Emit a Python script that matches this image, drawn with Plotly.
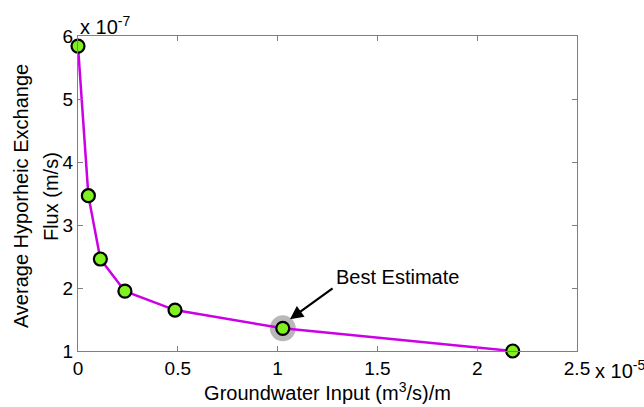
import plotly.graph_objects as go

# Data (real units)
groundwater_input = [0.0, 0.052e-5, 0.112e-5, 0.235e-5, 0.486e-5, 1.026e-5, 2.178e-5]
exchange_flux = [5.84e-7, 3.465e-7, 2.46e-7, 1.95e-7, 1.65e-7, 1.36e-7, 1.0e-7]
best_index = 5

x_tickvals = [0, 0.5e-5, 1.0e-5, 1.5e-5, 2.0e-5, 2.5e-5]
x_ticktext = ["0", "0.5", "1", "1.5", "2", "2.5"]
y_tickvals = [1e-7, 2e-7, 3e-7, 4e-7, 5e-7, 6e-7]
y_ticktext = ["1", "2", "3", "4", "5", "6"]
y_title_lines = ["Average Hyporheic Exchange", "Flux (m/s)"]

font = "Liberation Sans, Arial, sans-serif"

fig = go.Figure()

# Gray halo around best estimate
fig.add_trace(go.Scatter(
    x=[groundwater_input[best_index]], y=[exchange_flux[best_index]],
    mode="markers",
    marker=dict(size=26, color="rgba(160,160,160,0.75)", line=dict(width=0)),
    showlegend=False, hoverinfo="skip"))

fig.add_trace(go.Scatter(
    x=groundwater_input, y=exchange_flux,
    mode="lines+markers",
    line=dict(color="#CC00E6", width=2.5),
    marker=dict(size=13, color="#80F020", line=dict(color="black", width=2.2)),
    showlegend=False, cliponaxis=False))

axis_common = dict(
    showline=True, linecolor="#7f7f7f", linewidth=1, mirror="ticks",
    ticks="inside", ticklen=5, tickcolor="#7f7f7f",
    showgrid=False, zeroline=False,
    tickfont=dict(family=font, size=19, color="black"),
)

fig.update_xaxes(
    range=[0, 2.5e-5], tickvals=x_tickvals, ticktext=x_ticktext,
    title=dict(text="Groundwater Input (m<sup>3</sup>/s)/m",
               font=dict(family=font, size=20, color="black"), standoff=2),
    **axis_common)
fig.update_yaxes(
    range=[1e-7, 6e-7], tickvals=y_tickvals, ticktext=y_ticktext,
    **axis_common)

# Y-axis title as two rotated lines (paper x positions left of plot)
y_title_x = [-0.115, -0.055]
for line, px in zip(y_title_lines, y_title_x):
    fig.add_annotation(
        x=px, y=0.5, xref="paper", yref="paper",
        xanchor="center", yanchor="middle", yshift=-3,
        text=line, textangle=-90, showarrow=False,
        font=dict(family=font, size=20, color="black"))

fig.add_annotation(
    x=1.062e-5, y=1.505e-7, ax=1.283e-5, ay=2.01e-7,
    xref="x", yref="y", axref="x", ayref="y",
    text="", showarrow=True, arrowhead=2, arrowsize=1.2, arrowwidth=2.2,
    arrowcolor="black")
fig.add_annotation(
    x=1.60e-5, y=2.17e-7, xref="x", yref="y", text="Best Estimate",
    showarrow=False, font=dict(family=font, size=20, color="black"))

# Exponent labels
fig.add_annotation(
    x=0, y=1, xref="paper", yref="paper", xanchor="left", yanchor="bottom",
    text="x 10<sup>-7</sup>", showarrow=False, yshift=-4,
    font=dict(family=font, size=20, color="black"))
fig.add_annotation(
    x=1, y=0, xref="paper", yref="paper", xanchor="left", yanchor="top",
    text="x 10<sup>-5</sup>", showarrow=False, xshift=16, yshift=-4,
    font=dict(family=font, size=20, color="black"))

fig.update_layout(
    width=644, height=407,
    margin=dict(l=78, r=67, t=36, b=54),
    paper_bgcolor="white", plot_bgcolor="white",
    font=dict(family=font, color="black"),
)

fig.write_html("out.html")
